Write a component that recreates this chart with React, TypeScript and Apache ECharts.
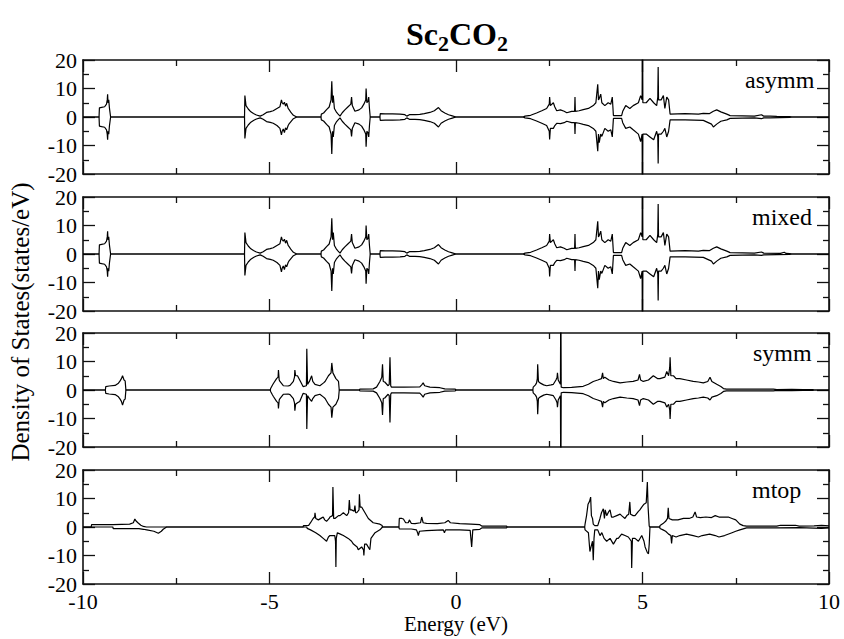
import React, { useEffect, useRef } from 'react';
import * as echarts from 'echarts';

// Panel labels
const panelNames = ['asymm', 'mixed', 'symm', 'mtop'];

// asymm panel: spin up / spin down [energy (eV), DOS]
const asymmUp = [
  [-10, 0], [-9.57, 0], [-9.56, 3.2], [-9.5, 3.4], [-9.42, 3.6], [-9.37, 4.5], [-9.35, 6], [-9.34, 8], [-9.33, 5], [-9.31, 6], [-9.29, 3], [-9.26, 0],
  [-5.67, 0], [-5.66, 7.5], [-5.63, 4], [-5.57, 2.8], [-5.5, 1.8], [-5.43, 1.2], [-5.35, 0.7], [-5.25, 0.3], [-5.17, 0.8], [-5.08, 1.6], [-4.98, 1.9], [-4.9, 2.2], [-4.8, 3], [-4.72, 3.6], [-4.68, 6], [-4.66, 5], [-4.63, 4.5], [-4.6, 5.2], [-4.57, 3.8], [-4.54, 4.8], [-4.5, 3], [-4.47, 2.5], [-4.42, 1.5], [-4.36, 0.6], [-4.27, 0],
  [-3.62, 0], [-3.61, 1], [-3.55, 1.4], [-3.47, 2.6], [-3.4, 3.5], [-3.35, 6], [-3.33, 12.5], [-3.31, 5], [-3.29, 7.5], [-3.26, 3], [-3.2, 1.6], [-3.16, 1], [-3.11, 0.3], [-3.05, 1.5], [-2.98, 2.5], [-2.9, 3.5], [-2.82, 4.5], [-2.8, 7], [-2.78, 4], [-2.71, 2], [-2.6, 2.5], [-2.53, 3.2], [-2.47, 4.5], [-2.42, 6], [-2.41, 10], [-2.39, 5], [-2.36, 5.5], [-2.34, 7], [-2.32, 3], [-2.3, 0],
  [-2.04, 0], [-2.03, 1.2], [-1.9, 1.1], [-1.7, 1.1], [-1.5, 1.0], [-1.37, 0.8], [-1.32, 0.3], [-1.25, 0.8], [-1.1, 0.8], [-0.97, 0.9], [-0.85, 1.2], [-0.7, 1.6], [-0.58, 2.2], [-0.47, 3.3], [-0.4, 2.2], [-0.3, 1.4], [-0.2, 0.8], [-0.1, 0.4], [0.0, 0],
  [1.8, 0], [1.85, 0.3], [2.0, 0.6], [2.16, 1.4], [2.3, 2.2], [2.43, 3], [2.5, 4.5], [2.51, 7], [2.53, 4], [2.61, 5], [2.65, 3.5], [2.7, 2.2], [2.8, 2.5], [2.9, 2], [2.97, 1.5], [3.1, 2], [3.18, 2], [3.19, 7], [3.2, 2], [3.3, 2.2], [3.41, 2.6], [3.55, 3], [3.68, 4], [3.75, 5], [3.8, 11.5], [3.82, 6], [3.84, 6.5], [3.88, 8], [3.91, 5], [3.99, 4], [4.08, 5], [4.15, 4.5], [4.19, 7], [4.22, 0.5], [4.35, 0.5], [4.44, 0.5], [4.47, 2], [4.55, 4], [4.66, 3], [4.75, 4], [4.89, 5], [4.95, 7.5], [4.99, 6], [5.0, 40], [5.01, 5], [5.1, 5], [5.2, 6.5], [5.3, 5], [5.38, 4], [5.41, 7], [5.42, 17.5], [5.43, 6], [5.5, 6], [5.56, 7.5], [5.6, 3], [5.65, 7], [5.7, 6], [5.74, 1], [6.14, 1.2], [6.5, 1.0], [6.63, 1.3], [6.8, 1.2], [6.9, 2], [6.99, 2.5], [7.1, 1.8], [7.26, 1], [7.35, 0.5], [8.0, 0.3], [8.19, 0.8], [8.25, 0.3], [8.42, 0.3], [8.6, 0.2], [8.95, 0.15], [9.0, 0], [10, 0],
];
const asymmDown = [
  [-10, 0], [-9.57, 0], [-9.56, -3.2], [-9.5, -3.4], [-9.42, -3.6], [-9.37, -4.5], [-9.35, -6], [-9.34, -8], [-9.33, -5], [-9.31, -6], [-9.29, -3], [-9.26, 0],
  [-5.67, 0], [-5.66, -7.5], [-5.63, -4], [-5.57, -2.8], [-5.5, -1.8], [-5.43, -1.2], [-5.35, -0.7], [-5.25, -0.3], [-5.17, -0.8], [-5.08, -1.6], [-4.98, -1.9], [-4.9, -2.2], [-4.8, -3], [-4.72, -4], [-4.68, -6.3], [-4.66, -5], [-4.63, -4.2], [-4.6, -5.5], [-4.57, -3.8], [-4.54, -4.5], [-4.5, -3], [-4.47, -2.3], [-4.42, -1.5], [-4.36, -0.6], [-4.27, 0],
  [-3.62, 0], [-3.61, -1], [-3.55, -1.4], [-3.47, -2.6], [-3.4, -3.5], [-3.35, -6], [-3.33, -13], [-3.31, -5], [-3.29, -7], [-3.26, -3], [-3.2, -1.6], [-3.16, -1], [-3.11, -0.3], [-3.05, -1.5], [-2.98, -2.5], [-2.9, -3.5], [-2.82, -4.5], [-2.8, -6.8], [-2.78, -4], [-2.71, -2], [-2.6, -2.5], [-2.53, -3.2], [-2.47, -4.5], [-2.42, -6], [-2.41, -10.4], [-2.39, -5], [-2.36, -5.5], [-2.34, -7], [-2.32, -3], [-2.3, 0],
  [-2.04, 0], [-2.03, -1.2], [-1.9, -1.1], [-1.7, -1.1], [-1.5, -1.0], [-1.37, -0.8], [-1.32, -0.3], [-1.25, -0.8], [-1.1, -0.8], [-0.97, -0.9], [-0.85, -1.2], [-0.7, -1.6], [-0.58, -2.2], [-0.47, -3.5], [-0.4, -2.2], [-0.3, -1.4], [-0.2, -0.8], [-0.1, -0.4], [0.0, 0],
  [1.8, 0], [1.85, -0.3], [2.0, -0.6], [2.16, -1.4], [2.3, -2.2], [2.43, -3], [2.5, -5], [2.51, -7.9], [2.53, -4], [2.61, -4], [2.65, -3], [2.7, -2.2], [2.8, -2.3], [2.9, -2], [2.97, -1.5], [3.1, -2], [3.18, -2], [3.19, -6], [3.2, -2], [3.3, -2.2], [3.41, -2.6], [3.55, -3], [3.68, -4], [3.75, -5], [3.8, -12], [3.82, -6], [3.84, -9], [3.88, -6], [3.91, -6.8], [3.99, -4], [4.08, -5], [4.15, -4.5], [4.19, -7], [4.22, -0.5], [4.35, -0.5], [4.44, -0.5], [4.47, -2], [4.55, -4], [4.66, -3.5], [4.75, -4.5], [4.89, -6], [4.95, -8.6], [4.99, -6], [5.0, -40], [5.01, -6], [5.1, -6], [5.2, -7], [5.3, -8], [5.38, -5], [5.41, -7], [5.42, -16.3], [5.43, -6], [5.5, -6], [5.56, -5], [5.6, -4], [5.65, -7], [5.7, -5], [5.74, -1], [6.14, -1], [6.63, -1.2], [6.85, -2.5], [6.9, -3.5], [6.99, -2.5], [7.1, -1.5], [7.26, -1], [7.35, -0.5], [8.0, -0.3], [8.19, -0.6], [8.25, -0.3], [8.42, -0.3], [8.95, -0.15], [9.0, 0], [10, 0],
];

// mixed panel
const mixedUp = [
  [-10, 0], [-9.57, 0], [-9.56, 3.2], [-9.5, 3.4], [-9.42, 3.6], [-9.37, 4.5], [-9.35, 6], [-9.34, 8], [-9.33, 5], [-9.31, 6], [-9.29, 3], [-9.26, 0],
  [-5.67, 0], [-5.66, 7.5], [-5.63, 4], [-5.57, 2.8], [-5.5, 1.8], [-5.43, 1.2], [-5.35, 0.7], [-5.25, 0.3], [-5.17, 0.8], [-5.08, 1.6], [-4.98, 1.9], [-4.9, 2.2], [-4.8, 3], [-4.72, 3.6], [-4.68, 6], [-4.66, 5], [-4.63, 4.5], [-4.6, 5.2], [-4.57, 3.8], [-4.54, 4.8], [-4.5, 3], [-4.47, 2.5], [-4.42, 1.5], [-4.36, 0.6], [-4.27, 0],
  [-3.62, 0], [-3.61, 1], [-3.55, 1.4], [-3.47, 2.6], [-3.4, 3.5], [-3.35, 6], [-3.33, 12.5], [-3.31, 5], [-3.29, 7.5], [-3.26, 3], [-3.2, 1.6], [-3.16, 1], [-3.11, 0.3], [-3.05, 1.5], [-2.98, 2.5], [-2.9, 3.5], [-2.82, 4.5], [-2.8, 7], [-2.78, 4], [-2.71, 2], [-2.6, 2.5], [-2.53, 3.2], [-2.47, 4.5], [-2.42, 6], [-2.41, 10], [-2.39, 5], [-2.36, 5.5], [-2.34, 7], [-2.32, 3], [-2.3, 0],
  [-2.04, 0], [-2.03, 1.2], [-1.9, 1.1], [-1.7, 1.1], [-1.5, 1.0], [-1.37, 0.8], [-1.32, 0.3], [-1.25, 0.8], [-1.1, 0.8], [-0.97, 0.9], [-0.85, 1.2], [-0.7, 1.6], [-0.58, 2.2], [-0.47, 3.3], [-0.4, 2.2], [-0.3, 1.4], [-0.2, 0.8], [-0.1, 0.4], [0.0, 0],
  [1.8, 0], [1.85, 0.3], [2.0, 0.6], [2.16, 1.4], [2.3, 2.2], [2.43, 3], [2.5, 4.5], [2.51, 7], [2.53, 4], [2.61, 5], [2.65, 3.5], [2.7, 2.2], [2.8, 2.5], [2.9, 2], [2.97, 1.5], [3.1, 2], [3.18, 2], [3.19, 7], [3.2, 2], [3.3, 2.2], [3.41, 2.6], [3.55, 3], [3.68, 4], [3.75, 5], [3.8, 11.5], [3.82, 6], [3.84, 6.5], [3.88, 8], [3.91, 5], [3.99, 4], [4.08, 5], [4.15, 4.5], [4.19, 7], [4.22, 0.5], [4.35, 0.5], [4.44, 0.5], [4.47, 2], [4.55, 4], [4.66, 3], [4.75, 4], [4.89, 5], [4.95, 7.5], [4.99, 6], [5.0, 40], [5.01, 5], [5.1, 5], [5.2, 6.5], [5.3, 5], [5.38, 4], [5.41, 7], [5.42, 17.5], [5.43, 6], [5.5, 6], [5.56, 7.5], [5.6, 3], [5.65, 7], [5.7, 6], [5.74, 1], [6.14, 1.2], [6.5, 1.0], [6.63, 1.3], [6.8, 1.2], [6.9, 2], [6.99, 2.5], [7.1, 1.8], [7.26, 1], [7.35, 0.5], [8.0, 0.3], [8.19, 0.7], [8.25, 0.3], [8.7, 0.2], [8.8, 0.6], [8.85, 0.2], [8.95, 0.15], [9.0, 0], [10, 0],
];
const mixedDown = [
  [-10, 0], [-9.57, 0], [-9.56, -3.2], [-9.5, -3.4], [-9.42, -3.6], [-9.37, -4.5], [-9.35, -6], [-9.34, -8], [-9.33, -5], [-9.31, -6], [-9.29, -3], [-9.26, 0],
  [-5.67, 0], [-5.66, -7.5], [-5.63, -4], [-5.57, -2.8], [-5.5, -1.8], [-5.43, -1.2], [-5.35, -0.7], [-5.25, -0.3], [-5.17, -0.8], [-5.08, -1.6], [-4.98, -1.9], [-4.9, -2.2], [-4.8, -3], [-4.72, -4], [-4.68, -6.3], [-4.66, -5], [-4.63, -4.2], [-4.6, -5.5], [-4.57, -3.8], [-4.54, -4.5], [-4.5, -3], [-4.47, -2.3], [-4.42, -1.5], [-4.36, -0.6], [-4.27, 0],
  [-3.62, 0], [-3.61, -1], [-3.55, -1.4], [-3.47, -2.6], [-3.4, -3.5], [-3.35, -6], [-3.33, -13], [-3.31, -5], [-3.29, -7], [-3.26, -3], [-3.2, -1.6], [-3.16, -1], [-3.11, -0.3], [-3.05, -1.5], [-2.98, -2.5], [-2.9, -3.5], [-2.82, -4.5], [-2.8, -6.8], [-2.78, -4], [-2.71, -2], [-2.6, -2.5], [-2.53, -3.2], [-2.47, -4.5], [-2.42, -6], [-2.41, -10.4], [-2.39, -5], [-2.36, -5.5], [-2.34, -7], [-2.32, -3], [-2.3, 0],
  [-2.04, 0], [-2.03, -1.2], [-1.9, -1.1], [-1.7, -1.1], [-1.5, -1.0], [-1.37, -0.8], [-1.32, -0.3], [-1.25, -0.8], [-1.1, -0.8], [-0.97, -0.9], [-0.85, -1.2], [-0.7, -1.6], [-0.58, -2.2], [-0.47, -3.5], [-0.4, -2.2], [-0.3, -1.4], [-0.2, -0.8], [-0.1, -0.4], [0.0, 0],
  [1.8, 0], [1.85, -0.3], [2.0, -0.6], [2.16, -1.4], [2.3, -2.2], [2.43, -3], [2.5, -5], [2.51, -7.9], [2.53, -4], [2.61, -4], [2.65, -3], [2.7, -2.2], [2.8, -2.3], [2.9, -2], [2.97, -1.5], [3.1, -2], [3.18, -2], [3.19, -6], [3.2, -2], [3.3, -2.2], [3.41, -2.6], [3.55, -3], [3.68, -4], [3.75, -5], [3.8, -12], [3.82, -6], [3.84, -9], [3.88, -6], [3.91, -6.8], [3.99, -4], [4.08, -5], [4.15, -4.5], [4.19, -7], [4.22, -0.5], [4.35, -0.5], [4.44, -0.5], [4.47, -2], [4.55, -4], [4.66, -3.5], [4.75, -4.5], [4.89, -6], [4.95, -8.6], [4.99, -6], [5.0, -40], [5.01, -6], [5.1, -6], [5.2, -7], [5.3, -8], [5.38, -5], [5.41, -7], [5.42, -16.3], [5.43, -6], [5.5, -6], [5.56, -5], [5.6, -4], [5.65, -7], [5.7, -5], [5.74, -1], [6.14, -1], [6.63, -1.2], [6.85, -2.5], [6.9, -3.5], [6.99, -2.5], [7.1, -1.5], [7.26, -1], [7.35, -0.5], [8.0, -0.3], [8.19, -0.5], [8.25, -0.3], [8.95, -0.15], [9.0, 0], [10, 0],
];

// symm panel
const symmUp = [
  [-10, 0], [-9.4, 0], [-9.39, 1.2], [-9.3, 1.4], [-9.14, 1.6], [-9.05, 2.4], [-9.01, 3.1], [-8.97, 4], [-8.94, 5], [-8.9, 3.5], [-8.87, 3.2], [-8.85, 0],
  [-4.98, 0], [-4.97, 0.5], [-4.93, 1.5], [-4.9, 2.2], [-4.81, 4], [-4.77, 4.5], [-4.76, 7], [-4.74, 3.5], [-4.72, 3], [-4.63, 1.5], [-4.5, 1.4], [-4.45, 1.6], [-4.36, 3], [-4.33, 4.5], [-4.32, 7], [-4.3, 5], [-4.25, 5], [-4.19, 3.5], [-4.1, 1.2], [-4.01, 1.5], [-4.0, 14.5], [-3.98, 2], [-3.93, 3], [-3.87, 5], [-3.84, 3], [-3.78, 2], [-3.65, 1.5], [-3.55, 2.5], [-3.51, 3], [-3.42, 5], [-3.35, 6], [-3.33, 9.5], [-3.3, 6], [-3.22, 4], [-3.15, 3], [-3.13, 0],
  [-2.59, 0], [-2.58, 0.3], [-2.22, 0.4], [-2.13, 1], [-2.04, 3], [-1.99, 4.5], [-1.97, 9], [-1.95, 3], [-1.91, 2.8], [-1.82, 1.5], [-1.79, 2], [-1.77, 11.5], [-1.75, 1.5], [-1.73, 1], [-1.4, 1], [-0.97, 1.1], [-0.92, 1.8], [-0.88, 2.5], [-0.84, 1.5], [-0.7, 1], [-0.43, 0.8], [-0.3, 0.4], [-0.02, 0.3], [0.0, 0],
  [2.06, 0], [2.07, 1], [2.13, 1.8], [2.16, 2.5], [2.18, 4], [2.19, 9], [2.21, 3], [2.25, 2.5], [2.35, 1.8], [2.43, 1.5], [2.55, 1.8], [2.61, 2], [2.68, 3.5], [2.71, 4.5], [2.72, 6], [2.74, 3.5], [2.76, 3], [2.8, 2], [2.81, 40], [2.82, 1], [2.88, 0.8], [3.1, 0.9], [3.41, 1.3], [3.55, 2], [3.68, 3], [3.8, 3.5], [3.9, 4], [3.93, 6], [3.95, 4], [3.99, 4.5], [4.1, 3.5], [4.22, 3], [4.4, 2.5], [4.58, 2.8], [4.75, 3], [4.88, 3.5], [4.92, 5.5], [4.95, 3.5], [5.02, 3], [5.16, 3.5], [5.29, 5], [5.4, 4], [5.47, 4], [5.6, 4.5], [5.65, 6.5], [5.7, 5], [5.73, 8], [5.74, 11.5], [5.76, 5], [5.83, 5], [5.9, 4], [6.0, 4], [6.18, 3.5], [6.36, 3], [6.5, 2.8], [6.63, 2.5], [6.75, 3], [6.81, 4.5], [6.86, 3], [6.99, 2], [7.1, 1.2], [7.17, 0.5], [7.25, 0.3], [8.0, 0.3], [8.51, 0.3], [8.6, 0.15], [9.0, 0.2], [9.3, 0.1], [9.58, 0.1], [9.6, 0], [10, 0],
];
const symmDown = [
  [-10, 0], [-9.4, 0], [-9.39, -1.2], [-9.3, -1.4], [-9.14, -1.6], [-9.05, -2.4], [-9.01, -3.1], [-8.97, -4], [-8.94, -5.3], [-8.9, -3.5], [-8.87, -3.2], [-8.85, 0],
  [-4.98, 0], [-4.97, -0.5], [-4.93, -1.5], [-4.9, -2.2], [-4.81, -4], [-4.77, -4.5], [-4.76, -6.5], [-4.74, -3.5], [-4.72, -3], [-4.63, -1.5], [-4.5, -1.4], [-4.45, -1.6], [-4.36, -3], [-4.33, -4.5], [-4.32, -7.3], [-4.3, -5], [-4.25, -4.5], [-4.19, -4], [-4.1, -1.2], [-4.01, -1.5], [-4.0, -13.7], [-3.98, -2], [-3.93, -3], [-3.87, -4], [-3.84, -3], [-3.78, -2], [-3.65, -1.5], [-3.55, -2.5], [-3.51, -3], [-3.42, -5], [-3.35, -6], [-3.33, -9.7], [-3.3, -6], [-3.22, -5], [-3.15, -3], [-3.13, 0],
  [-2.59, 0], [-2.58, -0.3], [-2.22, -0.4], [-2.13, -1], [-2.04, -3], [-1.99, -4.5], [-1.97, -8.8], [-1.95, -3], [-1.91, -2.8], [-1.82, -1.5], [-1.79, -2], [-1.77, -11.4], [-1.75, -1.5], [-1.73, -1], [-1.4, -1], [-0.97, -1.1], [-0.92, -1.8], [-0.88, -2.5], [-0.84, -1.5], [-0.7, -1], [-0.43, -0.8], [-0.3, -0.4], [-0.02, -0.3], [0.0, 0],
  [2.06, 0], [2.07, -1], [2.13, -1.8], [2.16, -2.5], [2.18, -4], [2.19, -8.5], [2.21, -3], [2.25, -2.5], [2.35, -1.8], [2.43, -1.5], [2.55, -1.8], [2.61, -2], [2.68, -3.5], [2.71, -4.5], [2.72, -6], [2.74, -3.5], [2.76, -3], [2.8, -2], [2.81, -40], [2.82, -1], [2.88, -0.8], [3.1, -0.9], [3.41, -1.3], [3.55, -2], [3.68, -3], [3.8, -3.5], [3.9, -4], [3.93, -6], [3.95, -4], [3.99, -4.5], [4.1, -3.5], [4.22, -3], [4.4, -2.5], [4.58, -2.8], [4.75, -3], [4.88, -3.5], [4.92, -5.5], [4.95, -3.5], [5.02, -3], [5.16, -3.5], [5.29, -5], [5.4, -4], [5.47, -4], [5.6, -4.5], [5.65, -6], [5.7, -5], [5.73, -7], [5.74, -10.2], [5.76, -5], [5.83, -5], [5.9, -4], [6.0, -4], [6.18, -3.5], [6.36, -3], [6.5, -2.8], [6.63, -2.5], [6.75, -2.8], [6.81, -3.5], [6.86, -2.5], [6.99, -2], [7.1, -1.2], [7.17, -0.5], [7.25, -0.3], [8.0, -0.3], [8.51, -0.3], [8.6, -0.15], [9.0, -0.2], [9.3, -0.1], [9.58, -0.1], [9.6, 0], [10, 0],
];

// mtop panel
const mtopUp = [
  [-10, 0], [-9.78, 0], [-9.77, 0.8], [-9.4, 0.8], [-9.19, 0.8], [-8.75, 1], [-8.65, 1.5], [-8.61, 2.8], [-8.57, 2], [-8.52, 1.4], [-8.45, 0.6], [-8.38, 0.2], [-8.3, 0],
  [-4.1, 0], [-4.09, 0.5], [-3.95, 0.6], [-3.9, 1.5], [-3.83, 3], [-3.79, 3.5], [-3.78, 5], [-3.76, 3], [-3.69, 2.5], [-3.6, 3.2], [-3.56, 3.5], [-3.52, 2.5], [-3.47, 2], [-3.4, 3], [-3.38, 3.5], [-3.31, 4], [-3.3, 14], [-3.28, 3], [-3.245, 3], [-3.15, 4], [-3.11, 4], [-3.02, 5], [-2.93, 4], [-2.88, 5], [-2.86, 9.5], [-2.84, 6], [-2.8, 6], [-2.73, 5.5], [-2.71, 7.5], [-2.69, 5], [-2.66, 5], [-2.6, 6], [-2.59, 11.5], [-2.57, 7], [-2.53, 7], [-2.44, 5], [-2.35, 3], [-2.22, 1.5], [-2.04, 1], [-1.98, 0.5], [-1.97, 0],
  [-1.53, 0], [-1.52, 3], [-1.45, 3], [-1.41, 2.8], [-1.35, 1.5], [-1.28, 1.5], [-1.25, 2.5], [-1.2, 1.3], [-1.1, 1.2], [-0.95, 1.5], [-0.92, 3.5], [-0.88, 1.5], [-0.79, 1.3], [-0.5, 1.2], [-0.3, 1.5], [-0.21, 2.3], [-0.15, 1.5], [0.1, 1.2], [0.4, 1], [0.64, 0.8], [0.7, 0.3], [1.36, 0.3], [1.37, 0],
  [3.45, 0], [3.46, 1], [3.5, 4], [3.54, 8], [3.58, 9], [3.61, 10.5], [3.63, 4], [3.66, 3], [3.68, 1], [3.72, 0.5], [3.8, 0.5], [3.86, 3], [3.9, 5], [3.95, 6.4], [3.98, 3], [4.0, 6], [4.04, 4], [4.1, 5.5], [4.13, 6], [4.17, 3.5], [4.22, 3.5], [4.31, 4], [4.4, 4.5], [4.44, 4], [4.53, 3], [4.58, 4], [4.63, 4.5], [4.66, 8.8], [4.68, 4.5], [4.75, 4], [4.8, 4], [4.89, 5.5], [4.93, 6], [4.98, 7], [5.04, 8], [5.1, 8.5], [5.13, 15.8], [5.15, 7], [5.18, 0.3], [5.2, 0],
  [5.46, 0], [5.47, 0.5], [5.55, 1.2], [5.62, 2], [5.67, 3], [5.69, 6.7], [5.71, 3], [5.8, 2.5], [5.95, 2.5], [6.1, 3], [6.25, 3], [6.35, 3.5], [6.41, 5.3], [6.45, 3.5], [6.55, 3.3], [6.7, 3.5], [6.85, 3.3], [6.95, 4], [7.05, 3.5], [7.2, 3.5], [7.3, 3.5], [7.4, 3], [7.5, 2.5], [7.61, 1], [7.7, 0.5], [7.79, 0.3], [8.6, 0.3], [8.7, 0.6], [9.1, 0.6], [9.2, 0.3], [9.6, 0.4], [9.8, 0.6], [10, 0.4],
];
const mtopDown = [
  [-10, 0], [-9.2, 0], [-9.19, -0.6], [-8.5, -0.6], [-8.38, -0.8], [-8.29, -1], [-8.1, -1.5], [-7.98, -2.2], [-7.9, -1.5], [-7.85, -0.8], [-7.76, 0],
  [-4.0, 0], [-3.99, -0.5], [-3.9, -1], [-3.76, -2], [-3.65, -3], [-3.56, -4], [-3.47, -5], [-3.42, -3.5], [-3.38, -3], [-3.25, -3], [-3.23, -5], [-3.22, -14], [-3.21, -4], [-3.18, -2], [-3.1, -2.5], [-3.02, -3], [-2.89, -4], [-2.8, -5], [-2.75, -6], [-2.65, -7], [-2.62, -8], [-2.53, -7], [-2.48, -8], [-2.47, -10], [-2.45, -6], [-2.4, -6], [-2.31, -8], [-2.28, -4], [-2.17, -2], [-2.04, -1], [-1.97, 0],
  [-1.53, 0], [-1.52, -0.7], [-1.2, -0.7], [-1.06, -1], [-1.03, -2], [-1.01, -3], [-0.98, -1.5], [-0.79, -1.3], [-0.5, -1.1], [-0.34, -1], [-0.31, -2], [-0.28, -1], [0.1, -1], [0.38, -1.2], [0.42, -7], [0.45, -1], [0.64, -0.8], [0.7, -0.3], [1.36, -0.3], [1.37, 0],
  [3.45, 0], [3.46, -1], [3.55, -2], [3.59, -8.6], [3.62, -7], [3.66, -5], [3.68, -11.7], [3.7, -4], [3.72, -1], [3.8, -1], [3.86, -3], [3.91, -2], [3.97, -4], [4.04, -5], [4.13, -4], [4.22, -6], [4.31, -4], [4.35, -4], [4.44, -2.5], [4.53, -3], [4.62, -3.5], [4.7, -5], [4.71, -14.4], [4.73, -4], [4.8, -4], [4.89, -5], [4.98, -3], [5.04, -5], [5.07, -7], [5.13, -9], [5.16, -9.4], [5.18, -6], [5.2, 0],
  [5.46, 0], [5.47, -0.5], [5.55, -1], [5.62, -1.5], [5.7, -2.5], [5.76, -3], [5.78, -5.8], [5.8, -3], [5.9, -3.5], [6.0, -3], [6.18, -2.5], [6.36, -3], [6.5, -3.5], [6.6, -3], [6.8, -2.5], [6.95, -3], [7.05, -3.5], [7.2, -3], [7.4, -2], [7.5, -1.5], [7.61, -1], [7.79, -0.3], [8.6, -0.3], [9.2, -0.2], [9.8, -0.5], [10, -0.3],
];

const panelUp = [asymmUp, mixedUp, symmUp, mtopUp];
const panelDown = [asymmDown, mixedDown, symmDown, mtopDown];

const FONT = '"Liberation Serif", "Times New Roman", serif';

export default function App() {
  const ref = useRef<HTMLDivElement>(null);
  useEffect(() => {
    const chart = echarts.init(ref.current!, null, { renderer: 'svg' });
    const tops = [60, 197, 333, 470];
    const labelX = [745, 752, 753, 752];
    const H = 114;
    const L = 83;
    const W = 746;
    const frame = { color: '#111', width: 1.6 };
    const tickStyle = { color: '#111', width: 1.3 };

    const grid: any[] = tops.map((t) => ({ left: L, top: t, width: W, height: H }));
    const xAxis: any[] = [];
    const yAxis: any[] = [];
    const series: any[] = [];
    tops.forEach((_, i) => {
      const baseX = {
        type: 'value', gridIndex: i, min: -10, max: 10, interval: 5,
        axisLine: { show: true, onZero: false, lineStyle: frame },
        axisTick: { show: true, inside: true, length: 12, lineStyle: tickStyle },
        minorTick: { show: true, splitNumber: 2, length: 6, lineStyle: tickStyle },
        splitLine: { show: false },
      };
      xAxis.push({
        ...baseX, position: 'bottom',
        axisLabel: { show: i === 3, fontFamily: FONT, fontSize: 22, color: '#000', margin: 6 },
      });
      xAxis.push({ ...baseX, position: 'top', axisLabel: { show: false } });
      const baseY = {
        type: 'value', gridIndex: i, min: -20, max: 20, interval: 10,
        axisLine: { show: true, onZero: false, lineStyle: frame },
        axisTick: { show: true, inside: true, length: 12, lineStyle: tickStyle },
        minorTick: { show: true, splitNumber: 2, length: 6, lineStyle: tickStyle },
        splitLine: { show: false },
      };
      yAxis.push({
        ...baseY, position: 'left',
        axisLabel: { show: true, fontFamily: FONT, fontSize: 22, color: '#000', margin: 6 },
      });
      yAxis.push({ ...baseY, position: 'right', axisLabel: { show: false } });

      [panelUp[i], panelDown[i]].forEach((d) => {
        series.push({
          type: 'line', xAxisIndex: 2 * i, yAxisIndex: 2 * i, data: d,
          showSymbol: false, symbol: 'none', clip: true,
          lineStyle: { color: '#000', width: 1.2 },
        });
      });
    });

    const graphic: any[] = [
      {
        type: 'text', x: 457, y: 36,
        style: {
          text: '{a|Sc}{b|2}{a|CO}{b|2}',
          align: 'center', verticalAlign: 'middle',
          rich: {
            a: { fontFamily: FONT, fontWeight: 'bold', fontSize: 32, lineHeight: 36, verticalAlign: 'top', fill: '#000' },
            b: { fontFamily: FONT, fontWeight: 'bold', fontSize: 22, lineHeight: 14, verticalAlign: 'bottom', fill: '#000' },
          },
        },
      },
      {
        type: 'text', x: 20, y: 322, rotation: Math.PI / 2,
        style: { text: 'Density of States(states/eV)', font: `25px ${FONT}`, fill: '#000', align: 'center', verticalAlign: 'middle' },
      },
      {
        type: 'text', x: 456, y: 624,
        style: { text: 'Energy (eV)', font: `21px ${FONT}`, fill: '#000', align: 'center', verticalAlign: 'middle' },
      },
    ];
    tops.forEach((t, i) => {
      graphic.push({
        type: 'text', x: labelX[i], y: t + 20,
        style: { text: panelNames[i], font: `24px ${FONT}`, fill: '#000', align: 'left', verticalAlign: 'middle' },
      });
    });

    chart.setOption({
      animation: false,
      backgroundColor: '#fff',
      grid, xAxis, yAxis, series, graphic,
    });
    return () => chart.dispose();
  }, []);
  return <div ref={ref} style={{ position: 'absolute', left: 0, top: 0, width: 844, height: 639 }} />;
}
